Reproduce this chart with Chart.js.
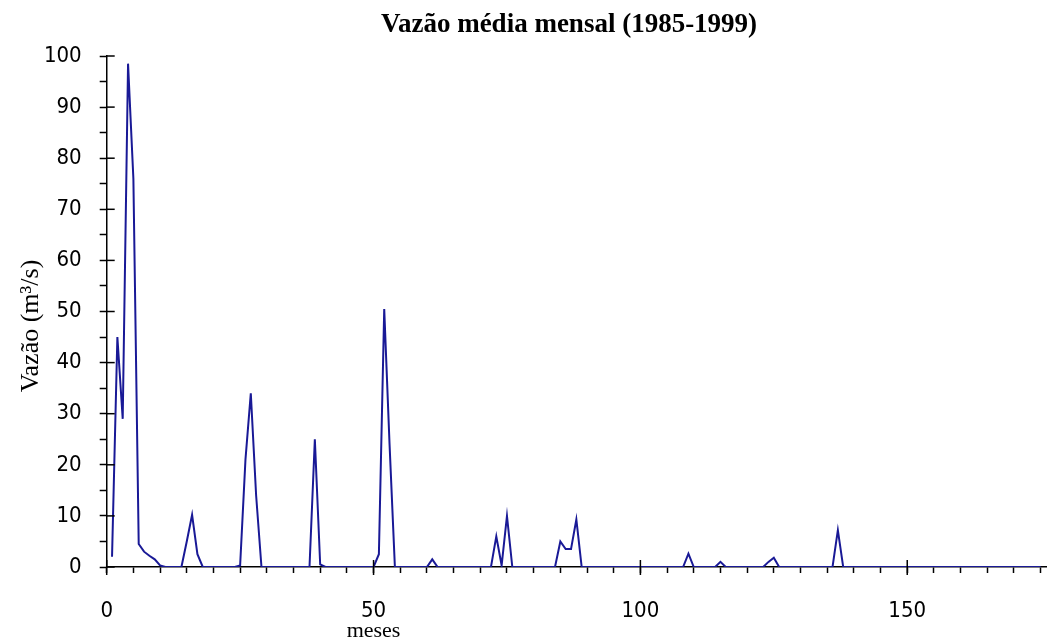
<!DOCTYPE html>
<html>
<head>
<meta charset="utf-8">
<script src="https://cdn.jsdelivr.net/npm/chart.js@4.4.0/dist/chart.umd.min.js"></script>
<style>
html, body { margin: 0; padding: 0; background: #fff; }
</style>
</head>
<body>
<canvas id="myChart" width="1055" height="643"></canvas>
<script>
const titulo = "Vazão média mensal (1985-1999)";
const tituloY = "Vazão (m³/s)";
const tituloX = "meses";
const ticksX = [0, 50, 100, 150];
const ticksY = [0, 10, 20, 30, 40, 50, 60, 70, 80, 90, 100];

// vazão média de cada mês, a partir do mês 1
const vazao = [
    2, 45, 29, 98.5, 76, 4.5, 3, 2.2, 1.5, 0.3,      // 1-10
    0, 0, 0, 0, 5, 10.2, 2.5, 0, 0, 0,               // 11-20
    0, 0, 0, 0, 0.3, 21, 34, 14, 0, 0,               // 21-30
    0, 0, 0, 0, 0, 0, 0, 0, 25, 0.5,                 // 31-40
    0, 0, 0, 0, 0, 0, 0, 0, 0, 0,                    // 41-50
    2.5, 50.5, 24, 0, 0, 0, 0, 0, 0, 0,              // 51-60
    1.5, 0, 0, 0, 0, 0, 0, 0, 0, 0,                  // 61-70
    0, 0, 6, 0.3, 10, 0, 0, 0, 0, 0,                 // 71-80
    0, 0, 0, 0, 5, 3.5, 3.5, 9.3, 0, 0,              // 81-90
    0, 0, 0, 0, 0, 0, 0, 0, 0, 0,                    // 91-100
    0, 0, 0, 0, 0, 0, 0, 0, 2.6, 0,                  // 101-110
    0, 0, 0, 0, 1, 0, 0, 0, 0, 0,                    // 111-120
    0, 0, 0, 1, 1.8, 0, 0, 0, 0, 0,                  // 121-130
    0, 0, 0, 0, 0, 0, 7.2, 0, 0, 0,                  // 131-140
    0, 0, 0, 0, 0, 0, 0, 0, 0, 0,                    // 141-150
    0, 0, 0, 0, 0, 0, 0, 0, 0, 0,                    // 151-160
    0, 0, 0, 0, 0, 0, 0, 0, 0, 0,                    // 161-170
    0, 0, 0, 0, 0                                    // 171-175
];

const pontos = vazao.map((v, i) => ({ x: i + 1, y: v }));

const fonteNum = '"Liberation Sans Narrow", "DejaVu Sans Condensed", "Liberation Sans", sans-serif';
const fonteTxt = '"Liberation Serif", "DejaVu Serif", serif';

// traços maiores atravessando os eixos + títulos
const extras = {
    id: 'extras',
    afterDraw(chart) {
        const ctx = chart.ctx;
        const xs = chart.scales.x;
        const ys = chart.scales.y;
        const y0 = ys.getPixelForValue(0);
        const x0 = xs.getPixelForValue(0);
        ctx.save();
        ctx.strokeStyle = '#000';
        ctx.lineWidth = 1.5;
        ticksX.forEach(v => {
            const px = xs.getPixelForValue(v);
            ctx.beginPath();
            ctx.moveTo(px, y0 - 7);
            ctx.lineTo(px, y0 + 8);
            ctx.stroke();
        });
        ticksY.forEach(v => {
            const py = ys.getPixelForValue(v);
            ctx.beginPath();
            ctx.moveTo(x0, py);
            ctx.lineTo(x0 + 8, py);
            ctx.stroke();
        });
        ctx.fillStyle = '#000';
        ctx.textAlign = 'center';
        ctx.textBaseline = 'middle';
        ctx.font = 'bold 27px ' + fonteTxt;
        ctx.fillText(titulo, 569, 25);
        ctx.font = '22px ' + fonteTxt;
        ctx.fillText(tituloX, xs.getPixelForValue(50), 631);
        ctx.translate(31, 326);
        ctx.rotate(-Math.PI / 2);
        ctx.font = '26px ' + fonteTxt;
        ctx.fillText(tituloY, 0, 0);
        ctx.restore();
    }
};

const ctx = document.getElementById("myChart").getContext("2d");

new Chart(ctx, {
    type: 'line',
    data: {
        datasets: [{
            data: pontos,
            borderColor: 'rgb(25, 25, 150)',
            borderWidth: 2,
            pointRadius: 0,
            tension: 0,
            fill: false
        }]
    },
    options: {
        responsive: false,
        animation: false,
        layout: { padding: { left: 6, right: 9, top: 56, bottom: 0 } },
        plugins: {
            legend: { display: false },
            title: { display: false },
            tooltip: { enabled: false }
        },
        scales: {
            x: {
                type: 'linear',
                min: 0,
                max: 176,
                z: 1,
                border: { display: true, color: '#000', width: 1.5 },
                grid: { display: true, drawOnChartArea: false, drawTicks: true, tickLength: 6, tickColor: '#000', tickWidth: 1.5 },
                ticks: {
                    stepSize: 5,
                    autoSkip: false,
                    maxRotation: 0,
                    includeBounds: false,
                    padding: 25,
                    color: '#000',
                    font: { family: fonteNum, size: 22 },
                    callback: v => ticksX.includes(v) ? v : ''
                },
                afterFit: function(scale) {
                    scale.height = 76;
                    scale.paddingLeft = 0;
                    scale.paddingRight = 0;
                }
            },
            y: {
                min: 0,
                max: 100,
                z: 1,
                border: { display: true, color: '#000', width: 1.5 },
                grid: { display: true, drawOnChartArea: false, drawTicks: true, tickLength: 7, tickColor: '#000', tickWidth: 1.5 },
                ticks: {
                    stepSize: 5,
                    autoSkip: false,
                    includeBounds: false,
                    padding: 18,
                    color: '#000',
                    font: { family: fonteNum, size: 22 },
                    callback: v => ticksY.includes(v) ? v : ''
                },
                afterFit: function(scale) {
                    scale.width = 100.7;
                }
            }
        }
    },
    plugins: [extras]
});
</script>
</body>
</html>
